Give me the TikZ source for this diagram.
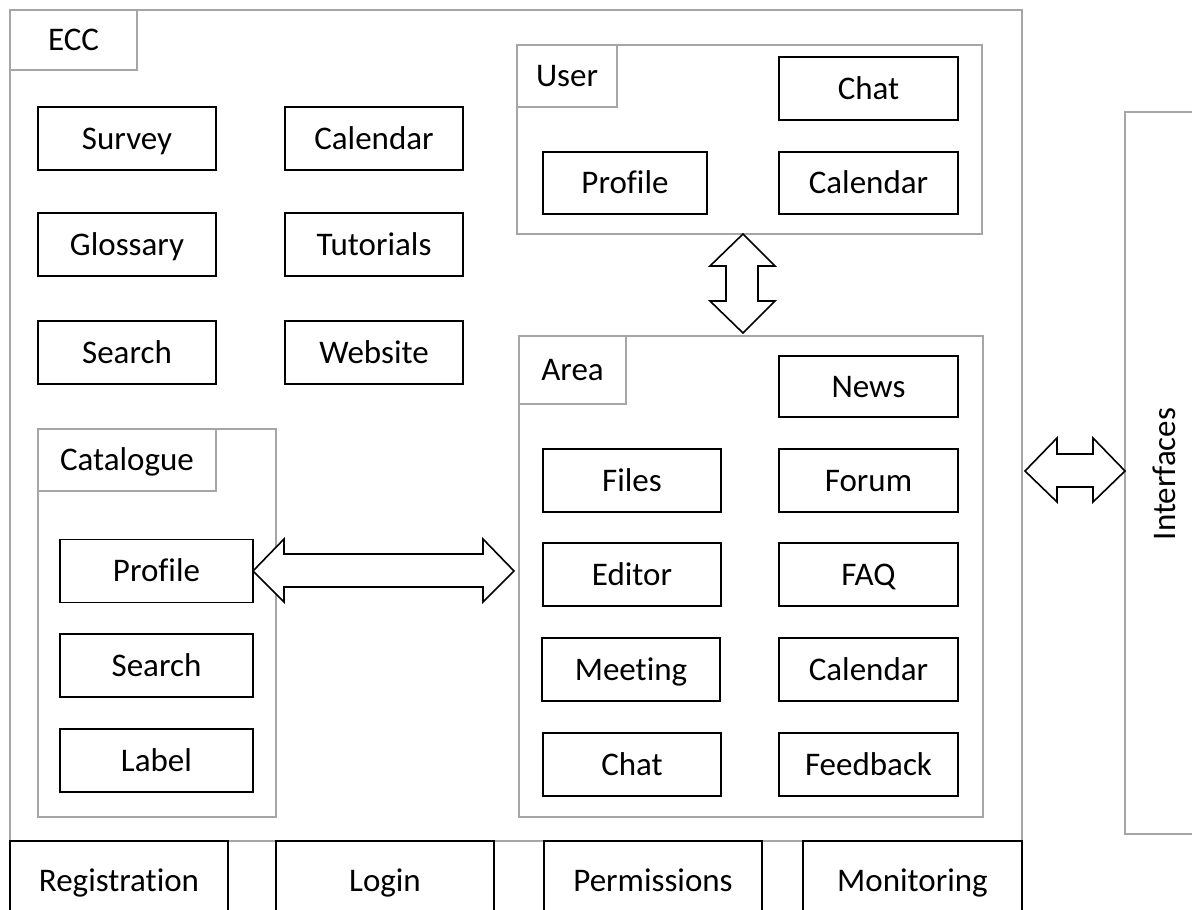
\documentclass[tikz,border=0pt]{standalone}
\usepackage{fontspec}
\setmainfont{Carlito}[Ligatures=NoCommon]
\definecolor{framegray}{HTML}{A6A6A6}
\tikzset{
  box/.style={draw=black, line width=1.6pt, fill=white, inner sep=0pt,
    text height=21pt, text depth=0pt,
    minimum width=178pt, minimum height=63pt},
  frame/.style={draw=framegray, line width=1.8pt, inner sep=0pt},
  tablabel/.style={inner sep=0pt, text height=21pt, text depth=0pt},
  blockarrow/.style={draw=black, line width=1.6pt, fill=white, line join=miter},
}
\begin{document}
\begin{tikzpicture}[x=1pt, y=-1pt, font=\fontsize{33}{40}\selectfont]
\clip (0,0) rectangle (1192,910);
\fill[white] (0,0) rectangle (1192,910);

% ECC frame and its tab
\node[frame, minimum width=1012pt, minimum height=831pt] (ecc) at (516,425.5) {};
\node[frame, minimum width=127pt, minimum height=60pt] (ecctab) at (73.5,40) {};
\node[tablabel] at (ecctab) {ECC};

% sub-frames with their tabs
\node[frame, minimum width=238pt, minimum height=388pt] (cat) at (157,623) {};
\node[frame, minimum width=178pt, minimum height=62pt] (cattab) at (127,460) {};
\node[tablabel] at (cattab) {Catalogue};
\node[frame, minimum width=465pt, minimum height=189pt] (user) at (749.5,139.5) {};
\node[frame, minimum width=100pt, minimum height=62pt] (usertab) at (567,76) {};
\node[tablabel] at (usertab) {User};
\node[frame, minimum width=464pt, minimum height=481pt] (area) at (751,576.5) {};
\node[frame, minimum width=107pt, minimum height=68pt] (areatab) at (572.5,370) {};
\node[tablabel] at (areatab) {Area};

% interfaces
\node[frame, minimum width=100pt, minimum height=722pt] (iface) at (1175,473) {};
\node[tablabel, rotate=90] at (1164.5,474) {Interfaces};

% block arrows
\draw[blockarrow] (743,234) -- (775,266) -- (758,266) -- (758,301) -- (775,301)
  -- (743,333) -- (710,301) -- (726,301) -- (726,266) -- (710,266) -- cycle;
\draw[blockarrow] (253,571) -- (284,539) -- (284,554) -- (483,554) -- (483,539)
  -- (514,571) -- (483,602) -- (483,587) -- (284,587) -- (284,602) -- cycle;
\draw[blockarrow] (1025,471) -- (1057,438) -- (1057,454) -- (1093,454) -- (1093,438)
  -- (1125,471) -- (1093,502) -- (1093,487) -- (1057,487) -- (1057,502) -- cycle;

% general modules
\node[box] (survey)   at (127,138.5) {Survey};
\node[box] (calendar) at (374,138.5) {Calendar};
\node[box] (glossary) at (127,244.5) {Glossary};
\node[box] (tutorial) at (374,244.5) {Tutorials};
\node[box] (search)   at (127,352.5) {Search};
\node[box] (website)  at (374,352.5) {Website};

% catalogue modules
\node[box, minimum width=193pt] (cprofile) at (156.5,571) {Profile};
\node[box, minimum width=193pt] (csearch)  at (156.5,665.5) {Search};
\node[box, minimum width=193pt] (clabel)   at (156.5,760.5) {Label};

% user modules
\node[box, minimum width=179pt] (uchat)     at (868.5,88.5) {Chat};
\node[box, minimum width=164pt, minimum height=62pt] (uprofile) at (625,183) {Profile};
\node[box, minimum width=179pt, minimum height=62pt] (ucalendar) at (868.5,183) {Calendar};

% area modules
\node[box, minimum width=179pt, minimum height=61pt] (news) at (868.5,386.5) {News};
\node[box] (files)    at (632,480.5) {Files};
\node[box, minimum width=179pt] (forum)    at (868.5,480.5) {Forum};
\node[box] (editor)   at (632,574.5) {Editor};
\node[box, minimum width=179pt] (faq)      at (868.5,574.5) {FAQ};
\node[box] (meeting)  at (631,669.5) {Meeting};
\node[box, minimum width=179pt] (acalendar) at (868.5,669.5) {Calendar};
\node[box] (achat)    at (632,764.5) {Chat};
\node[box, minimum width=179pt] (feedback) at (868.5,764.5) {Feedback};

% base services
\node[box, minimum width=218pt, minimum height=80pt] (reg)   at (119,881) {Registration};
\node[box, minimum width=218pt, minimum height=80pt] (login) at (385,881) {Login};
\node[box, minimum width=218pt, minimum height=80pt] (perm)  at (653,881) {Permissions};
\node[box, minimum width=219pt, minimum height=80pt] (mon)   at (912.5,881) {Monitoring};
\end{tikzpicture}
\end{document}
